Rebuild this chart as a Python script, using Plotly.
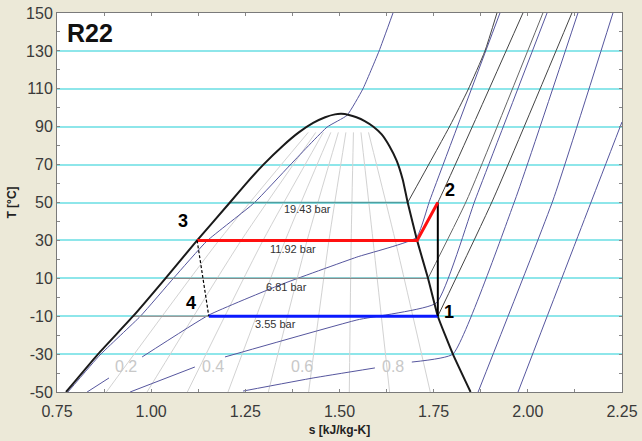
import plotly.graph_objects as go

# ---------------- data (s in kJ/kg-K, T in degC) ----------------
liq_s = [0.774, 0.859, 0.952, 1.038, 1.122, 1.209, 1.252, 1.298, 1.350, 1.392, 1.430, 1.462, 1.488, 1.505]
liq_T = [-50, -30, -10, 10, 30, 50, 60, 70, 80, 87, 92, 95, 96.5, 96.8]
vap_s = [1.505, 1.525, 1.545, 1.567, 1.590, 1.612, 1.632, 1.652, 1.668, 1.681, 1.706, 1.735, 1.761, 1.801, 1.848]
vap_T = [96.8, 96.2, 95.0, 93.0, 90.0, 86.0, 80.0, 72.0, 62.0, 50, 30, 10, -10, -30, -50]

# isobars inside the dome (bar, T_sat, s_liquid, s_vapour)
p_labels = ["19.43 bar", "11.92 bar", "6.81 bar", "3.55 bar"]
p_Tsat = [50, 30, 10, -10]
p_sliq = [1.209, 1.122, 1.038, 0.952]
p_svap = [1.681, 1.706, 1.735, 1.761]

# superheated isobars
sh_isobars = {
    "19.43": ([1.681, 1.793, 1.841, 1.886, 1.918], [50, 90.4, 109.4, 129.9, 150]),
    "11.92": ([1.706, 1.761, 1.987], [30, 50, 150]),
    "6.81": ([1.735, 1.838, 2.040], [10, 51.3, 150]),
    "3.55": ([1.761, 1.907, 2.117], [-10, 51.3, 150]),
}

# isochores (None = break for labels)
isoch_D = ([0.779, 0.864, 0.972, 1.060, 1.148, 1.273, 1.369, 1.467, 1.520, 1.562, 1.605, 1.642],
           [-50, -30.5, -9.9, 10.2, 29.7, 49.7, 69.8, 89.8, 96.0, 109.9, 129.9, 150])
isoch_A = ([0.830, 0.888, None, 0.976, 1.153, 1.342, 1.546, 1.704, 1.740, 1.926],
           [-50, -42.6, None, -31.5, -9.4, 6.5, 21.2, 31.5, 51.3, 150])
isoch_B = ([0.944, 1.116, None, 1.196, 1.546, 1.757, 1.860, 2.051],
           [-50, -36.8, None, -31.5, -12.0, -3.0, 51.3, 150])
isoch_C = ([1.244, 1.430, 1.594, None, 1.692, 1.801, 1.966, 2.133],
           [-49.5, -42.6, -37.3, None, -34.2, -30.0, 51.3, 150])
isoch_E = ([1.868, 2.067, 2.226], [-50, 51.3, 150])
isoch_F = ([1.974, 2.170, 2.250], [-50, 51.3, 92.5])

# quality lines x = 0.1 ... 0.9 (s at T=-50, 30, 87)
q_T = [-50, 30, 87]
q_s = [
    [0.881, 1.180, 1.417],
    [0.989, 1.239, 1.437],
    [1.096, 1.297, 1.457],
    [1.204, 1.356, 1.477],
    [1.311, 1.414, 1.497],
    [1.418, 1.472, 1.517],
    [1.526, 1.531, 1.537],
    [1.633, 1.589, 1.557],
    [1.741, 1.648, 1.577],
]
q_labels = ["0.2", "0.4", "0.6", "0.8"]
q_label_s = [0.933, 1.164, 1.400, 1.642]

# axis ticks
x_ticks = [0.75, 1.00, 1.25, 1.50, 1.75, 2.00, 2.25]
x_ticktext = ["0.75", "1.00", "1.25", "1.50", "1.75", "2.00", "2.25"]
y_ticks = [-50, -30, -10, 10, 30, 50, 70, 90, 110, 130, 150]
y_ticktext = ["-50", "-30", "-10", "10", "30", "50", "70", "90", "110", "130", "150"]

# cycle states
cyc_s = {"1": 1.761, "2": 1.761, "2s": 1.706, "3": 1.122, "4": 1.153}
cyc_T = {"1": -10, "2": 50, "2s": 30, "3": 30, "4": -10}

PURPLE = "#56569e"
fig = go.Figure()

def line(xs, ys, color, width=1, dash=None, shape="linear", smoothing=1.0):
    ln = dict(color=color, width=width, dash=dash, shape=shape)
    if shape == "spline":
        ln["smoothing"] = smoothing
    fig.add_trace(go.Scatter(x=xs, y=ys, mode="lines", connectgaps=False,
                             line=ln, hoverinfo="skip", showlegend=False))

# quality lines
for qs in q_s:
    line(qs, q_T, "#d2d2d2", 1, shape="spline", smoothing=0.6)

# isochores
for xs, ys in [isoch_D, isoch_A, isoch_B, isoch_C, isoch_E, isoch_F]:
    line(xs, ys, PURPLE, 1, shape="spline", smoothing=0.4)

# superheated isobars
sh_col = {"19.43": "#444444", "11.92": "#444444", "6.81": "#666666", "3.55": "#444444"}
for k, (xs, ys) in sh_isobars.items():
    line(xs, ys, sh_col[k], 1, shape="spline", smoothing=0.5)

# isobars in dome
line([p_sliq[0], p_svap[0]], [p_Tsat[0]] * 2, "#4f9ea0", 1.5)
line([p_sliq[2], p_svap[2]], [p_Tsat[2]] * 2, "#8a8a8a", 1.2)
line([p_sliq[3], cyc_s["4"]], [p_Tsat[3]] * 2, "#9a9a9a", 1.5)

# saturation dome
line(liq_s + vap_s[1:], liq_T + vap_T[1:], "#1a1a1a", 2, shape="spline", smoothing=0.4)

# cycle
line([cyc_s["4"], cyc_s["1"]], [cyc_T["4"], cyc_T["1"]], "#0a1aff", 3)
line([cyc_s["1"], cyc_s["2"]], [cyc_T["1"], cyc_T["2"]], "#000000", 2)
line([cyc_s["2"], cyc_s["2s"], cyc_s["3"]], [cyc_T["2"], cyc_T["2s"], cyc_T["3"]], "#ff1010", 3)
line([cyc_s["3"], cyc_s["4"]], [cyc_T["3"], cyc_T["4"]], "#000000", 1.2, dash="3px,2px")

ann = []
def text(x, y, t, size, color="#222", bold=False, xanchor="center"):
    ann.append(dict(x=x, y=y, text=f"<b>{t}</b>" if bold else t, showarrow=False,
                    xanchor=xanchor, yanchor="middle",
                    font=dict(family="Liberation Sans, Arial", size=size, color=color)))

text(0.772, 139.5, "R22", 25, "#111", True, "left")
text(1.791, -8.0, "1", 18, "#000", True)
text(1.793, 56.5, "2", 18, "#000", True)
text(1.085, 40.0, "3", 18, "#000", True)
text(1.106, -3.0, "4", 18, "#000", True)
for lab, sx, ty in zip(p_labels, [1.414, 1.377, 1.358, 1.331], [46.6, 25.5, 5.4, -14.1]):
    text(sx, ty, lab, 11, "#333")
for lab, sx in zip(q_labels, q_label_s):
    text(sx, -36.8, lab, 16, "#c8c8c8")

fig.update_layout(
    width=642, height=441,
    margin=dict(l=57, r=20, t=13, b=49),
    paper_bgcolor="#ECE9D8", plot_bgcolor="#FFFFFF",
    annotations=ann,
    font=dict(family="Liberation Sans, Arial", size=16, color="#3a3a3a"),
    xaxis=dict(range=[0.75, 2.25], tickvals=x_ticks, ticktext=x_ticktext,
               showgrid=False, zeroline=False, showline=True, linecolor="#7a7a7a",
               linewidth=1, mirror="allticks", ticks="inside", ticklen=3, tickcolor="#888",
               ticklabelstandoff=5,
               minor=dict(dtick=0.125, tick0=0.75, ticks="inside", ticklen=3, tickcolor="#888"),
               title=dict(text="<b>s [kJ/kg-K]</b>", font=dict(size=12, color="#222"), standoff=6),
               automargin=False, fixedrange=True),
    yaxis=dict(range=[-50, 150], tickvals=y_ticks, ticktext=y_ticktext,
               showgrid=True, gridcolor="#8EE6EA", gridwidth=2, zeroline=False,
               showline=True, linecolor="#7a7a7a", linewidth=1, mirror="allticks",
               ticks="inside", ticklen=3, tickcolor="#888",
               minor=dict(dtick=10, tick0=-50, ticks="inside", ticklen=3, tickcolor="#888", showgrid=False),
               title=dict(text="<b>T [°C]</b>", font=dict(size=12, color="#222"), standoff=6),
               automargin=False, fixedrange=True),
)

fig.write_html("out.html", config={"displayModeBar": False},
               post_script="document.body.style.margin='0';")
